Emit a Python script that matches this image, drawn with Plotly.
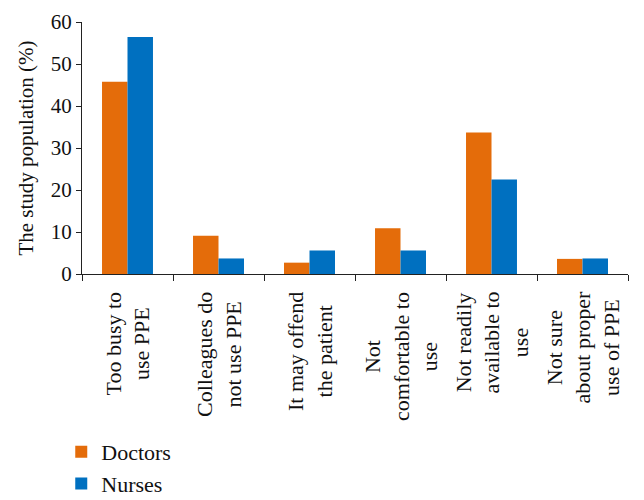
import plotly.graph_objects as go

categories = [
    "Too busy to<br>use PPE",
    "Colleagues do<br>not use PPE",
    "It may offend<br>the patient",
    "Not<br>comfortable to<br>use",
    "Not readily<br>available to<br>use",
    "Not sure<br>about proper<br>use of PPE",
]
doctors = [45.8, 9.1, 2.7, 10.9, 33.7, 3.6]
nurses = [56.4, 3.7, 5.6, 5.6, 22.5, 3.7]

FONT = "Liberation Serif, Times New Roman, serif"

fig = go.Figure()
fig.add_trace(go.Bar(x=categories, y=doctors, name="Doctors", marker_color="#E46C0A", marker_line_width=0))
fig.add_trace(go.Bar(x=categories, y=nurses, name="Nurses", marker_color="#0070C0", marker_line_width=0))

# category labels: rotated, lines centred, top of block just under the axis
for cat in categories:
    fig.add_annotation(
        x=cat, xref="x", y=0, yref="paper",
        text=cat, showarrow=False, textangle=-90, align="center",
        xanchor="center", yanchor="top", yshift=-16,
        font=dict(size=22, family=FONT, color="#111111"),
    )

fig.update_layout(
    width=644,
    height=500,
    barmode="group",
    bargap=0.44,
    bargroupgap=0,
    paper_bgcolor="#ffffff",
    plot_bgcolor="#ffffff",
    margin=dict(l=82, r=16, t=22, b=226, autoexpand=False),
    font=dict(family=FONT, color="#111111", size=21),
    showlegend=True,
    legend=dict(
        orientation="v",
        x=-0.038,
        xanchor="left",
        y=-0.623,
        yanchor="top",
        font=dict(size=22),
        itemwidth=30,
        tracegroupgap=0,
        bgcolor="rgba(0,0,0,0)",
    ),
)
fig.update_xaxes(
    showgrid=False,
    showline=True,
    linecolor="#222222",
    linewidth=1,
    ticks="outside",
    tickson="boundaries",
    ticklen=6,
    tickcolor="#222222",
    showticklabels=False,
    automargin=False,
)
fig.update_yaxes(
    range=[0, 60],
    dtick=10,
    showgrid=False,
    zeroline=False,
    showline=True,
    linecolor="#222222",
    linewidth=1,
    ticks="outside",
    ticklen=5,
    tickcolor="#222222",
    automargin=False,
    tickfont=dict(size=21),
    title=dict(text="The study population (%)", font=dict(size=21), standoff=11),
)

# drop the page's default 8px body margin so the figure fills the window
fig.write_html(
    "out.html",
    config={"displayModeBar": False},
    post_script="document.body.style.margin='0px';",
)
